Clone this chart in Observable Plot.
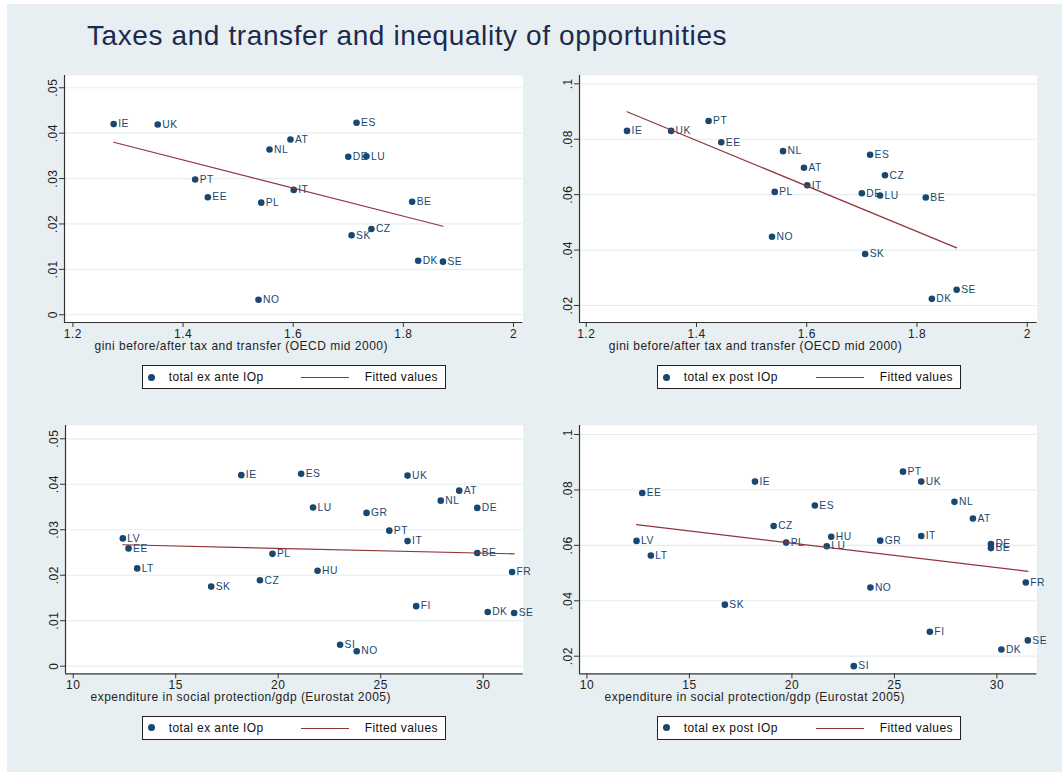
<!DOCTYPE html>
<html>
<head>
<meta charset="utf-8">
<script src="https://cdn.jsdelivr.net/npm/d3@7"></script>
<script src="https://cdn.jsdelivr.net/npm/@observablehq/plot@0.6"></script>
<style>
  html, body { margin: 0; padding: 0; background: #ffffff; }
  body { width: 1062px; height: 772px; position: relative; overflow: hidden; font-family: "Liberation Sans", Arial, sans-serif; }
  #bg { position: absolute; left: 7px; top: 4px; width: 1055px; height: 768px; background: #e8eff2; }
  #title { position: absolute; left: 87px; top: 22px; font-size: 28px; line-height: 1; letter-spacing: 0.6px; color: #1c2a4e; white-space: nowrap; }
  .panel { position: absolute; }
  .panel svg { overflow: visible; }
  .panel text { letter-spacing: 0.5px; }
  .panel g[aria-label="country"] text { letter-spacing: 1px; }
  .panel g[aria-label="xtitle"] text { letter-spacing: 0.7px; }
  .legend { position: absolute; background: #ffffff; border: 1px solid #222; box-sizing: border-box; font-size: 12px; color: #111; letter-spacing: 0.4px; }
  .legend .dot { position: absolute; width: 7px; height: 7px; border-radius: 50%; background: #1a476f; }
  .legend .ln { position: absolute; height: 0; border-top: 1.3px solid #90353b; }
  .legend .t { position: absolute; white-space: nowrap; line-height: 1; }
</style>
</head>
<body>
<div id="bg"></div>
<div id="title">Taxes and transfer and inequality of opportunities</div>
<div id="root"></div>
<script>
// ---------------- data ----------------
const countries   = ["IE","UK","PT","EE","PL","NO","NL","AT","IT","DE","LU","ES","SK","CZ","BE","DK","SE","LV","LT","HU","SI","GR","FI","FR"];
const gini        = [1.274,1.354,1.422,1.445,1.542,1.537,1.557,1.595,1.601,1.700,1.733,1.715,1.706,1.742,1.816,1.827,1.872,null,null,null,null,null,null,null];
const expenditure = [18.20,26.31,25.42,12.70,19.72,23.83,27.93,28.83,26.31,29.71,21.70,21.12,16.73,19.11,29.71,30.22,31.51,12.42,13.12,21.92,23.02,24.31,26.73,31.41];
const exAnte      = [.0420,.0419,.0298,.0259,.0247,.0033,.0364,.0386,.0275,.0348,.0349,.0423,.0175,.0189,.0249,.0119,.0117,.0281,.0215,.0210,.0047,.0337,.0132,.0207];
const exPost      = [.0830,.0830,.0866,.0789,.0610,.0448,.0757,.0697,.0634,.0605,.0597,.0744,.0386,.0670,.0590,.0224,.0257,.0616,.0563,.0631,.0164,.0617,.0288,.0466];

// fitted values (end points of the fitted lines)
const fitGiniX      = [1.274, 1.872];
const fitGiniExAnte = [.0380, .0195];
const fitGiniExPost = [.0899, .0408];
const fitExpX       = [12.42, 31.51];
const fitExpExAnte  = [.0267, .0247];
const fitExpExPost  = [.0675, .0506];

// ticks
const giniTicks   = [1.2, 1.4, 1.6, 1.8, 2];
const expTicks    = [10, 15, 20, 25, 30];
const exAnteTicks = [0, .01, .02, .03, .04, .05];
const exPostTicks = [.02, .04, .06, .08, .1];

// titles
const giniTitle = "gini before/after tax and transfer (OECD mid 2000)";
const expTitle  = "expenditure in social protection/gdp (Eurostat 2005)";
const exAnteLabel = "total ex ante IOp";
const exPostLabel = "total ex post IOp";
const fitLabel = "Fitted values";

// ---------------- drawing ----------------
const navy = "#1a476f", maroon = "#90353b", gridColor = "#e6edf0", axisColor = "#333";
const yFmt = d => d === 0 ? "0" : String(+d.toFixed(2)).replace(/^0\./, ".");
const xFmt = d => String(d);

const rows = countries.map((c, i) => ({c, gini: gini[i], exp: expenditure[i], exAnte: exAnte[i], exPost: exPost[i]}));

function panel(o) {
  const f = o.frame;
  const mL = 60, mT = 10, mR = 22, mB = 45;
  const data = rows.filter(r => r[o.xKey] != null);
  const fit = o.fitX.map((x, i) => ({x, y: o.fitY[i]}));
  const svg = Plot.plot({
    width: (f.right - f.left) + mL + mR,
    height: (f.bottom - f.top) + mT + mB,
    marginLeft: mL, marginRight: mR, marginTop: mT, marginBottom: mB,
    x: {domain: o.xDomain},
    y: {domain: o.yDomain},
    style: {background: "transparent", fontFamily: "'Liberation Sans', Arial, sans-serif", fontSize: "12px", color: "#222", overflow: "visible"},
    marks: [
      Plot.frame({fill: "white", stroke: null}),
      Plot.gridY(o.yTicks, {stroke: gridColor, strokeOpacity: 1, strokeWidth: 1.2}),
      Plot.ruleX([o.xDomain[0]], {stroke: axisColor, strokeWidth: 1.2}),
      Plot.ruleY([o.yDomain[0]], {stroke: axisColor, strokeWidth: 1.2}),
      Plot.axisX(o.xTicks, {tickSize: 5, tickPadding: 2, tickFormat: xFmt, label: null, stroke: axisColor, fill: "#222", fontSize: 12}),
      Plot.axisY(o.yTicks, {tickSize: 5, tickFormat: () => "", label: null, stroke: axisColor}),
      Plot.text(o.yTicks, {x: o.xDomain[0], y: d => d, text: yFmt, rotate: -90, dx: -8, textAnchor: "middle", lineAnchor: "bottom", fill: "#222", fontSize: 12}),
      Plot.text(data, {x: o.xKey, y: o.yKey, text: "c", dx: 4.5, textAnchor: "start", fill: navy, fontSize: 10.3, ariaLabel: "country"}),
      Plot.dot(data, {x: o.xKey, y: o.yKey, r: 3.3, fill: navy, stroke: null}),
      Plot.line(fit, {x: "x", y: "y", stroke: maroon, strokeWidth: 1.2}),
      Plot.text([o.xTitle], {frameAnchor: "bottom-left", dx: o.titleDx, dy: 27.5, textAnchor: "start", fill: "#222", fontSize: 12, ariaLabel: "xtitle"})
    ]
  });
  const wrap = document.createElement("div");
  wrap.className = "panel";
  wrap.style.left = (f.left - mL) + "px";
  wrap.style.top = (f.top - mT) + "px";
  wrap.appendChild(svg);
  document.getElementById("root").appendChild(wrap);

  // legend
  const L = o.legend;
  const lg = document.createElement("div");
  lg.className = "legend";
  lg.style.left = L.left + "px"; lg.style.top = L.top + "px";
  lg.style.width = "304px"; lg.style.height = "24px";
  lg.innerHTML =
    `<span class="dot" style="left:5px;top:7.5px"></span>` +
    `<span class="t" style="left:26px;top:5px">${o.seriesLabel}</span>` +
    `<span class="ln" style="left:158px;top:11px;width:48px"></span>` +
    `<span class="t" style="left:222px;top:5px">${fitLabel}</span>`;
  document.getElementById("root").appendChild(lg);
}

panel({xKey: "gini", yKey: "exAnte", xDomain: [1.1847, 2.0171], yDomain: [-0.0017, 0.0527],
  xTicks: giniTicks, yTicks: exAnteTicks, fitX: fitGiniX, fitY: fitGiniExAnte,
  frame: {left: 64.3, right: 522.7, top: 75, bottom: 322}, xTitle: giniTitle, titleDx: 30,
  seriesLabel: exAnteLabel, legend: {left: 141.7, top: 365}});

panel({xKey: "gini", yKey: "exPost", xDomain: [1.1878, 2.0181], yDomain: [0.01387, 0.103],
  xTicks: giniTicks, yTicks: exPostTicks, fitX: fitGiniX, fitY: fitGiniExPost,
  frame: {left: 579, right: 1036.7, top: 75, bottom: 322}, xTitle: giniTitle, titleDx: 29.3,
  seriesLabel: exPostLabel, legend: {left: 656.7, top: 365}});

panel({xKey: "exp", yKey: "exAnte", xDomain: [9.624, 31.951], yDomain: [-0.00167, 0.05292],
  xTicks: expTicks, yTicks: exAnteTicks, fitX: fitExpX, fitY: fitExpExAnte,
  frame: {left: 65, right: 522.7, top: 425, bottom: 673.3}, xTitle: expTitle, titleDx: 25,
  seriesLabel: exAnteLabel, legend: {left: 141.7, top: 715.7}});

panel({xKey: "exp", yKey: "exPost", xDomain: [9.639, 31.951], yDomain: [0.01365, 0.10325],
  xTicks: expTicks, yTicks: exPostTicks, fitX: fitExpX, fitY: fitExpExPost,
  frame: {left: 579.3, right: 1036.7, top: 425, bottom: 673.3}, xTitle: expTitle, titleDx: 25,
  seriesLabel: exPostLabel, legend: {left: 656.7, top: 715.7}});
</script>
</body>
</html>
